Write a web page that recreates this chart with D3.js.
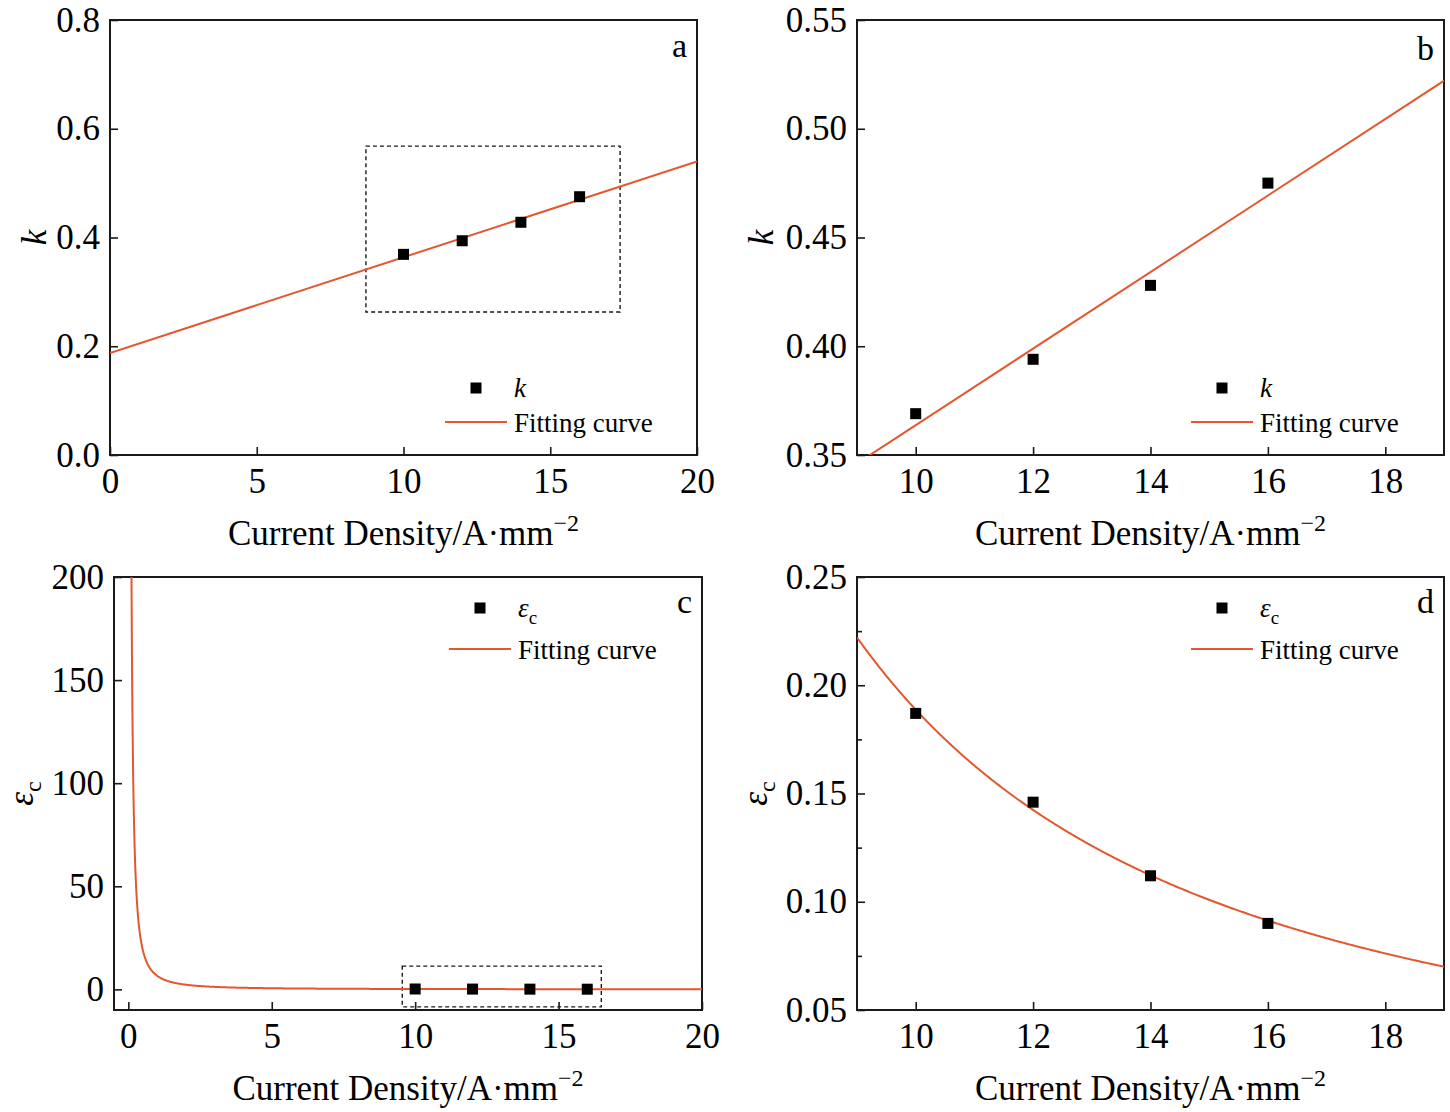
<!DOCTYPE html>
<html>
<head>
<meta charset="utf-8">
<script src="https://cdn.jsdelivr.net/npm/d3@7"></script>
<style>
  body { margin: 0; background: #fff; }
  svg { display: block; font-family: "Liberation Serif", "Times New Roman", serif; }
</style>
</head>
<body>
<svg id="chart" width="1450" height="1112"></svg>
<script>
// measured values (current density in A/mm^2)
const currentDensity = [10, 12, 14, 16];
const kValues = [0.369, 0.394, 0.428, 0.475];
const epsValues = [0.187, 0.146, 0.112, 0.090];

// linear fit of k, read at the two ends of panel a
const kFitX = [0, 20];
const kFitY = [0.1877, 0.5397];

// power law fit of eps_c : eps = A * j^B
const epsFitA = 6.62;
const epsFitB = -1.545;

// tick labels
const xTicksWide = [0, 5, 10, 15, 20];
const xTicksZoom = [10, 12, 14, 16, 18];
const kTicksWide = [0, 0.2, 0.4, 0.6, 0.8];
const kTicksZoom = [0.35, 0.40, 0.45, 0.50, 0.55];
const epsTicksWide = [0, 50, 100, 150, 200];
const epsTicksZoom = [0.05, 0.10, 0.15, 0.20, 0.25];
const epsMinorZoom = [0.075, 0.125, 0.175, 0.225];

// dashed zoom boxes [x0, x1], [y0, y1]
const kBoxX = [8.72, 17.38];
const kBoxY = [0.263, 0.568];
const epsBoxX = [9.55, 16.49];
const epsBoxY = [-8.5, 11.3];

const ORANGE = '#e4572e';
const INK = '#1a1a1a';
const svg = d3.select('#chart');

const drawPanel = (p) => {
    const g = svg.append('g').attr('transform', 'translate(' + p.left + ',' + p.top + ')');
    const x = d3.scaleLinear().domain(p.xDomain).range([0, p.w]);
    const y = d3.scaleLinear().domain(p.yDomain).range([p.h, 0]);

    const clipId = 'clip-' + p.letter;
    g.append('clipPath').attr('id', clipId)
        .append('rect').attr('width', p.w).attr('height', p.h);

    // axes with inward ticks
    const xAxis = d3.axisBottom(x).tickValues(p.xTicks).tickFormat(d3.format('d'))
        .tickSizeInner(-8).tickSizeOuter(0).tickPadding(13);
    const yAxis = d3.axisLeft(y).tickValues(p.yTicks).tickFormat(d3.format(p.yFormat))
        .tickSizeInner(-8).tickSizeOuter(0).tickPadding(10);

    g.append('g').attr('transform', 'translate(0,' + p.h + ')').call(xAxis);
    g.append('g').call(yAxis);
    if (p.yMinor) {
        g.append('g').call(d3.axisLeft(y).tickValues(p.yMinor).tickFormat('')
            .tickSizeInner(-5).tickSizeOuter(0));
    }
    g.selectAll('.domain').remove();
    g.selectAll('.tick line').style('stroke', INK).style('stroke-width', 1.6);
    g.selectAll('.tick text')
        .style('font-family', '"Liberation Serif", serif')
        .style('font-size', '35px')
        .style('fill', '#000');

    // frame
    g.append('rect').attr('width', p.w).attr('height', p.h)
        .attr('fill', 'none').attr('stroke', INK).attr('stroke-width', 2);

    // dashed zoom box
    if (p.boxX) {
        g.append('rect')
            .attr('x', x(p.boxX[0])).attr('y', y(p.boxY[1]))
            .attr('width', x(p.boxX[1]) - x(p.boxX[0]))
            .attr('height', y(p.boxY[0]) - y(p.boxY[1]))
            .attr('fill', 'none').attr('stroke', INK)
            .attr('stroke-width', 1.4).attr('stroke-dasharray', '4,3');
    }

    // fitting curve
    const line = d3.line().x(d => x(d[0])).y(d => y(d[1]));
    g.append('path')
        .datum(p.fit)
        .attr('clip-path', 'url(#' + clipId + ')')
        .attr('d', line)
        .attr('fill', 'none').attr('stroke', ORANGE).attr('stroke-width', 2);

    // data points
    g.selectAll('rect.pt')
        .data(currentDensity.map((d, i) => [d, p.values[i]]))
        .enter().append('rect')
            .attr('class', 'pt')
            .attr('x', d => x(d[0]) - 5.5).attr('y', d => y(d[1]) - 5.5)
            .attr('width', 11).attr('height', 11)
            .attr('fill', '#000');

    // x title
    const xt = g.append('text')
        .attr('x', p.w / 2).attr('y', p.h + 90)
        .attr('text-anchor', 'middle')
        .style('font-size', '35px');
    xt.append('tspan').text('Current Density/A\u00b7mm');
    xt.append('tspan').attr('dy', -14).style('font-size', '24px').text('\u22122');

    // y title, rotated
    const yt = g.append('text')
        .attr('transform', 'translate(' + p.yTitleX + ',' + (p.h / 2) + ') rotate(-90)')
        .attr('text-anchor', 'middle')
        .style('font-size', '35px');
    if (p.yLabel === 'k') {
        yt.append('tspan').style('font-style', 'italic').text('k');
    } else {
        yt.append('tspan').style('font-style', 'italic').text('\u03b5');
        yt.append('tspan').attr('dy', 8).style('font-size', '24px').text('c');
    }

    // panel letter
    g.append('text')
        .attr('x', p.w - 10).attr('y', p.letterY)
        .attr('text-anchor', 'end')
        .style('font-size', '34px')
        .text(p.letter);

    // legend
    const lg = g.append('g').attr('transform', 'translate(' + p.legX + ',' + p.legY + ')');
    lg.append('rect').attr('x', 31 - 5.5).attr('y', -5.5)
        .attr('width', 11).attr('height', 11).attr('fill', '#000');
    const lt = lg.append('text').attr('x', 69).attr('y', 9).style('font-size', '27px');
    if (p.yLabel === 'k') {
        lt.append('tspan').style('font-style', 'italic').text('k');
    } else {
        lt.append('tspan').style('font-style', 'italic').text('\u03b5');
        lt.append('tspan').attr('dy', 7).style('font-size', '19px').text('c');
    }
    lg.append('line').attr('x1', 0).attr('x2', 62).attr('y1', p.legGap).attr('y2', p.legGap)
        .attr('stroke', ORANGE).attr('stroke-width', 2);
    lg.append('text').attr('x', 69).attr('y', p.legGap + 10)
        .style('font-size', '27px').text('Fitting curve');
};

const kLine = kFitX.map((d, i) => [d, kFitY[i]]);
const powerCurve = (lo, hi) => d3.range(0, 500)
    .map(i => lo * Math.pow(hi / lo, i / 499))
    .map(j => [j, epsFitA * Math.pow(j, epsFitB)]);

drawPanel({
    letter: 'a', left: 110, top: 20, w: 587, h: 435,
    xDomain: [0, 20], yDomain: [0, 0.8],
    xTicks: xTicksWide, yTicks: kTicksWide, yFormat: '.1f',
    values: kValues, fit: kLine, yLabel: 'k', yTitleX: -64,
    boxX: kBoxX, boxY: kBoxY,
    letterY: 37, legX: 335, legY: 368, legGap: 34
});

drawPanel({
    letter: 'b', left: 857, top: 20, w: 587, h: 435,
    xDomain: [9, 19], yDomain: [0.35, 0.55],
    xTicks: xTicksZoom, yTicks: kTicksZoom, yFormat: '.2f',
    values: kValues, fit: kLine, yLabel: 'k', yTitleX: -84,
    letterY: 40, legX: 334, legY: 368, legGap: 34
});

drawPanel({
    letter: 'c', left: 114, top: 577, w: 588, h: 433,
    xDomain: [-0.5, 20], yDomain: [-10, 200],
    xTicks: xTicksWide, yTicks: epsTicksWide, yFormat: 'd',
    values: epsValues, fit: powerCurve(0.1, 20), yLabel: 'eps', yTitleX: -81,
    boxX: epsBoxX, boxY: epsBoxY,
    letterY: 36, legX: 335, legY: 31, legGap: 41
});

drawPanel({
    letter: 'd', left: 857, top: 577, w: 587, h: 433,
    xDomain: [9, 19], yDomain: [0.05, 0.25],
    xTicks: xTicksZoom, yTicks: epsTicksZoom, yFormat: '.2f', yMinor: epsMinorZoom,
    values: epsValues, fit: powerCurve(9, 19), yLabel: 'eps', yTitleX: -90,
    letterY: 36, legX: 334, legY: 31, legGap: 41
});
</script>
</body>
</html>
